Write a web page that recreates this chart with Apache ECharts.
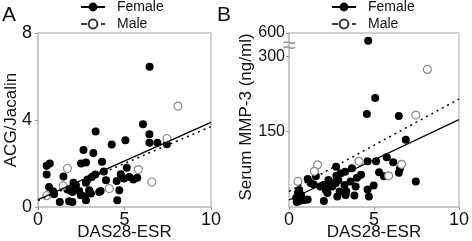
<!DOCTYPE html>
<html>
<head>
<meta charset="utf-8">
<script src="https://cdn.jsdelivr.net/npm/echarts@6/dist/echarts.min.js"></script>
<style>
  html, body { margin: 0; padding: 0; background: #fff; }
  #chart { width: 472px; height: 241px; }
</style>
</head>
<body>
<div id="chart"></div>
<script>
// panel A: DAS28-ESR vs ACG/Jacalin
const femaleA = [
  [6.45, 6.45], [6.07, 3.81], [6.44, 3.35], [6.44, 2.95], [6.9, 2.95], [7.45, 2.89],
  [3.33, 3.47], [5.05, 3.07], [4.26, 2.87], [2.63, 2.62], [3.2, 2.48], [2.49, 2.0],
  [2.77, 2.05], [3.7, 2.08], [0.68, 2.0], [0.5, 1.9], [0.5, 1.5], [1.47, 1.4],
  [3.81, 1.63], [3.31, 1.49], [3.11, 1.38], [2.86, 1.26], [2.77, 1.11], [5.13, 1.8],
  [4.78, 1.51], [4.97, 1.31], [5.28, 1.38], [5.51, 1.26], [5.74, 1.35], [3.93, 1.23],
  [4.55, 1.2], [4.7, 0.77], [4.58, 0.31], [3.62, 0.74], [2.05, 1.11], [2.19, 1.0],
  [0.64, 0.92], [0.87, 0.72], [1.7, 0.8], [1.86, 0.77], [1.99, 0.69], [2.38, 0.74],
  [2.48, 0.54], [2.77, 0.31], [2.73, 0.49], [2.96, 0.77], [3.06, 0.62], [3.54, 0.69],
  [1.26, 0.23], [1.8, 0.26], [1.99, 0.23], [0.93, 0.59]
]
const maleA = [
  [8.09, 4.64], [7.45, 3.15], [5.8, 1.72], [6.58, 1.15], [4.12, 0.85], [1.7, 1.77],
  [1.45, 0.97], [0.5, 0.52]
]
const fitFemaleA = [[0, 0.34], [10, 3.89]]
const fitMaleA = [[0, 0.3], [10, 3.7]]

// panel B: DAS28-ESR vs serum MMP-3 (ng/ml)
const femaleB = [
  [4.66, 500], [5.07, 217], [4.58, 185], [6.46, 181], [6.87, 134], [7.46, 51],
  [4.62, 91], [5.12, 91], [5.75, 99], [6.13, 89], [6.52, 76], [6.46, 68],
  [5.3, 69], [5.59, 61], [4.24, 64], [3.7, 77], [3.3, 70], [3.05, 67], [2.77, 80],
  [3.27, 44], [3.33, 24], [3.85, 23], [3.92, 41], [4.62, 35], [4.98, 43], [4.7, 21],
  [1.58, 61], [1.1, 56], [1.27, 48], [1.45, 45], [2.79, 62], [2.9, 54], [2.32, 54],
  [2.4, 44], [2.55, 41], [2.75, 48], [2.03, 44], [1.84, 41], [2.16, 34], [3.62, 51],
  [4.0, 58], [3.37, 31], [2.98, 31], [2.84, 21], [2.26, 28], [0.6, 34], [0.52, 28],
  [0.71, 24], [0.42, 18], [0.6, 12], [0.9, 14], [1.1, 15], [2.05, 12], [0.46, 10]
]
const maleB = [
  [8.14, 274], [7.46, 183], [4.12, 91], [6.62, 85], [5.86, 62], [1.68, 84],
  [1.49, 71], [0.52, 51]
]
const fitFemaleB = [[0, 14], [10, 174]]
const fitMaleB = [[0, 31], [10, 215]]

const xTicks = [0, 5, 10]
const yTicksA = [0, 4, 8]
const yTicksB = [150, 300, 600]

// y axis of B is broken above 300: 300..600 squeezed into a short band
const BREAK_AT = 300
const SQUEEZE = 0.155
const toAxisB = v => v <= BREAK_AT ? v : BREAK_AT + (v - BREAK_AT) * SQUEEZE
const fromAxisB = v => v <= BREAK_AT + 0.01 ? Math.round(v) : Math.round(BREAK_AT + (v - BREAK_AT) / SQUEEZE)
const onB = arr => arr.map(p => [p[0], toAxisB(p[1])])

const FONT = 'Liberation Sans, Arial, sans-serif'
const GRID_GREY = '#c4c4c4'
const Y_LABEL_A = { fontSize: 18, color: '#111', fontFamily: FONT, margin: 6 }

const chart = echarts.init(document.getElementById('chart'), null, { renderer: 'canvas' })

function xAxisOf (gridIndex) {
  return {
    type: 'value',
    gridIndex: gridIndex,
    min: xTicks[0],
    max: xTicks[xTicks.length - 1],
    interval: 5,
    name: 'DAS28-ESR',
    nameLocation: 'middle',
    nameGap: 17,
    nameMoveOverlap: false,
    nameTextStyle: { fontSize: 17, color: '#111', fontFamily: FONT },
    axisLine: { lineStyle: { color: GRID_GREY, width: 1.5 } },
    axisTick: { show: true, length: 3, lineStyle: { color: '#999' } },
    axisLabel: { fontSize: 18, color: '#111', fontFamily: FONT, margin: 4, showMinLabel: true, showMaxLabel: true },
    splitLine: { show: false }
  }
}

function legendOf (left) {
  return {
    orient: 'vertical',
    left: left,
    top: 0,
    padding: 0,
    itemWidth: 24,
    itemHeight: 11,
    itemGap: 3,
    textStyle: { fontSize: 14, color: '#111', fontFamily: FONT, padding: [0, 0, 0, 7] },
    data: [
      { name: 'Female' },
      { name: 'Male', lineStyle: { type: [6, 4], width: 1.3 } }
    ]
  }
}

// only tick labels count for the outer bounds, names may sit outside
const gridBase = {
  top: 33, height: 174, show: true, borderColor: GRID_GREY, borderWidth: 1.5,
  outerBoundsContain: 'axisLabel'
}

const option = {
  animation: false,
  backgroundColor: '#fff',
  legend: [legendOf(80), legendOf(331)],
  grid: [
    Object.assign({ left: 38, width: 173 }, gridBase),
    Object.assign({ left: 289, width: 172 }, gridBase)
  ],
  xAxis: [xAxisOf(0), xAxisOf(1)],
  yAxis: [
    {
      type: 'value',
      gridIndex: 0,
      min: yTicksA[0],
      max: yTicksA[yTicksA.length - 1],
      interval: 4,
      name: 'ACG/Jacalin',
      nameLocation: 'middle',
      nameGap: 18,
      nameMoveOverlap: false,
      nameTextStyle: { fontSize: 17, color: '#111', fontFamily: FONT },
      axisLine: { show: true, lineStyle: { color: GRID_GREY, width: 1.5 } },
      axisTick: { show: true, length: 3, lineStyle: { color: '#999' } },
      axisLabel: Object.assign({ showMinLabel: true, showMaxLabel: true }, Y_LABEL_A),
      splitLine: { show: false }
    },
    {
      type: 'value',
      gridIndex: 1,
      min: 0,
      max: toAxisB(yTicksB[yTicksB.length - 1]),
      name: 'Serum MMP-3 (ng/ml)',
      nameLocation: 'middle',
      nameGap: 34,
      nameMoveOverlap: false,
      nameTextStyle: { fontSize: 17, color: '#111', fontFamily: FONT, padding: [0, 0, 0, 6] },
      axisLine: { show: true, lineStyle: { color: GRID_GREY, width: 1.5 } },
      axisTick: { show: true, length: 3, lineStyle: { color: '#999' }, customValues: yTicksB.map(toAxisB) },
      axisLabel: {
        fontSize: 16, color: '#111', fontFamily: FONT, margin: 4,
        customValues: yTicksB.map(toAxisB),
        formatter: v => String(fromAxisB(v))
      },
      splitLine: { show: false }
    }
  ],
  graphic: [
    { id: 'panelA', type: 'text', left: 2, top: 5, style: { text: 'A', fontSize: 21, fill: '#111', fontFamily: FONT } },
    { id: 'panelB', type: 'text', left: 217, top: 5, style: { text: 'B', fontSize: 21, fill: '#111', fontFamily: FONT } },
    { id: 'breakMark', type: 'text', x: 289, y: 46, z: 100, style: { text: '≈', fontSize: 24, fill: '#9a9a9a', align: 'center', verticalAlign: 'middle', fontFamily: FONT } }
  ],
  series: [
    // line series first so the legend picks the line+marker icon
    {
      name: 'Female', type: 'line', xAxisIndex: 0, yAxisIndex: 0, data: fitFemaleA,
      symbol: 'circle', showSymbol: false, itemStyle: { color: '#000' },
      lineStyle: { color: '#000', width: 1.3 }, z: 5, silent: true
    },
    {
      name: 'Male', type: 'line', xAxisIndex: 0, yAxisIndex: 0, data: fitMaleA,
      symbol: 'emptyCircle', showSymbol: false, itemStyle: { color: '#333' },
      lineStyle: { color: '#000', width: 1.5, type: [2, 4] }, z: 5, silent: true
    },
    {
      name: 'Female', type: 'line', xAxisIndex: 1, yAxisIndex: 1, data: onB(fitFemaleB),
      symbol: 'circle', showSymbol: false, itemStyle: { color: '#000' },
      lineStyle: { color: '#000', width: 1.3 }, z: 5, silent: true
    },
    {
      name: 'Male', type: 'line', xAxisIndex: 1, yAxisIndex: 1, data: onB(fitMaleB),
      symbol: 'emptyCircle', showSymbol: false, itemStyle: { color: '#333' },
      lineStyle: { color: '#000', width: 1.5, type: [2, 4] }, z: 5, silent: true
    },
    {
      name: 'Female', type: 'scatter', xAxisIndex: 0, yAxisIndex: 0, data: femaleA,
      symbol: 'circle', symbolSize: 8, itemStyle: { color: '#000', opacity: 1 }
    },
    {
      name: 'Male', type: 'scatter', xAxisIndex: 0, yAxisIndex: 0, data: maleA,
      symbol: 'circle', symbolSize: 8,
      itemStyle: { color: '#fff', borderColor: '#8a8a8a', borderWidth: 1.2, opacity: 1 }
    },
    {
      name: 'Female', type: 'scatter', xAxisIndex: 1, yAxisIndex: 1, data: onB(femaleB),
      symbol: 'circle', symbolSize: 8, itemStyle: { color: '#000', opacity: 1 }
    },
    {
      name: 'Male', type: 'scatter', xAxisIndex: 1, yAxisIndex: 1, data: onB(maleB),
      symbol: 'circle', symbolSize: 8,
      itemStyle: { color: '#fff', borderColor: '#8a8a8a', borderWidth: 1.2, opacity: 1 }
    }
  ]
}

chart.setOption(option)

// ECharts 6 drops the top tick label of panel A here; if it is not drawn,
// put it back at the position the axis scale gives for that value
const topA = yTicksA[yTicksA.length - 1]
const drawn = chart.getZr().storage.getDisplayList(true)
  .some(el => el.style && el.style.text === String(topA) && !el.ignore && !el.invisible)
if (!drawn) {
  const px = chart.convertToPixel({ xAxisIndex: 0 }, xTicks[0])
  const py = chart.convertToPixel({ yAxisIndex: 0 }, topA)
  chart.setOption({
    graphic: [{
      id: 'topLabelA', type: 'text', x: px - Y_LABEL_A.margin, y: py,
      style: {
        text: String(topA), fontSize: Y_LABEL_A.fontSize, fill: Y_LABEL_A.color,
        fontFamily: FONT, align: 'right', verticalAlign: 'middle'
      }
    }]
  })
}
</script>
</body>
</html>
